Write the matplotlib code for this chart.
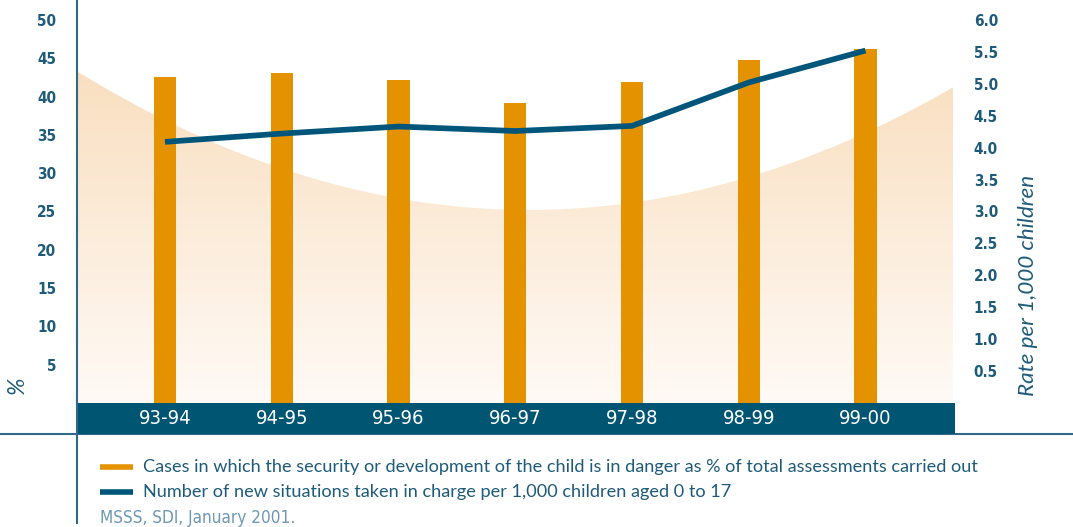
import numpy as np
import matplotlib
matplotlib.use("Agg")
import matplotlib.pyplot as plt
from matplotlib import transforms
from matplotlib.patches import Rectangle, Polygon
from matplotlib.lines import Line2D

# --- data -------------------------------------------------------------
years = ["93-94", "94-95", "95-96", "96-97", "97-98", "98-99", "99-00"]
pct_in_danger = [42.6, 43.1, 42.2, 39.2, 41.9, 44.8, 46.2]
rate_per_1000 = [4.09, 4.22, 4.33, 4.26, 4.34, 5.02, 5.52]

left_ticks = [5, 10, 15, 20, 25, 30, 35, 40, 45, 50]
right_ticks = [0.5, 1.0, 1.5, 2.0, 2.5, 3.0, 3.5, 4.0, 4.5, 5.0, 5.5, 6.0]

legend_labels = [
    "Cases in which the security or development of the child is in danger as % of total assessments carried out",
    "Number of new situations taken in charge per 1,000 children aged 0 to 17",
]
source_text = "MSSS, SDI, January 2001."

# --- style ------------------------------------------------------------
ORANGE = "#E59200"
TEAL = "#00567A"
TEXT = "#1E5B7B"
SOURCE = "#6E98B3"
COND = ["DejaVu Sans", "Roboto"]
HUMAN = ["Lato", "Open Sans", "DejaVu Sans"]

W, H = 1073, 527
fig = plt.figure(figsize=(W / 100, H / 100), dpi=100)

# plot area in pixels
x0, x1 = 77, 953
y_base = 403
ax = fig.add_axes([x0 / W, (H - y_base) / H, (x1 - x0) / W, y_base / H])
x = np.arange(len(years))
ax.set_facecolor("none")
for s in ax.spines.values():
    s.set_visible(False)

# background swoosh with vertical gradient
curve_pts_x = [-0.754, 3.13, 6.75]
curve_pts_y = [43.3, 25.2, 41.2]
coef = np.polyfit(curve_pts_x, curve_pts_y, 2)
xs = np.linspace(-0.754, 6.75, 300)
ys = np.polyval(coef, xs)
poly = Polygon(np.column_stack([np.r_[xs, xs[::-1]], np.r_[ys, np.zeros_like(xs)]]),
               closed=True, facecolor="none", edgecolor="none", transform=ax.transData)
ax.add_patch(poly)
top = np.array([249, 222, 190]) / 255
bot = np.array([255, 250, 246]) / 255
t = np.linspace(1, 0, 256)[:, None]
grad = (t[..., None] * top + (1 - t[..., None]) * bot)
grad = np.repeat(grad, 2, axis=1)
im = ax.imshow(grad, extent=[-0.754, 6.75, 0, 45], aspect="auto", zorder=0,
               interpolation="bilinear")
im.set_clip_path(poly)
ax.set_xlim(-0.754, 6.75)
ax.set_ylim(0, 52.6)

# bars
ax.bar(x, pct_in_danger, width=0.19, color=ORANGE, zorder=2)

# rate line on twin scale
ax2 = ax.twinx()
ax2.set_ylim(0, 52.6 * 6 / 50)
for s in ax2.spines.values():
    s.set_visible(False)
ax2.plot(x, rate_per_1000, color=TEAL, lw=4.1, solid_capstyle="butt",
         solid_joinstyle="miter", zorder=3)

# ticks
ax.set_xticks([])
ax.set_yticks(left_ticks)
ax.set_yticklabels([str(v) for v in left_ticks])
ax.tick_params(axis="y", length=0, pad=15, labelsize=11, labelcolor=TEXT)
for lab in ax.get_yticklabels():
    lab.set_fontfamily(COND)
    lab.set_fontweight("bold")
    lab.set_fontstretch("condensed")
ax2.set_yticks(right_ticks)
ax2.set_yticklabels([f"{v:.1f}" for v in right_ticks])
ax2.tick_params(axis="y", length=0, pad=15, labelsize=11, labelcolor=TEXT)
for lab in ax2.get_yticklabels():
    lab.set_fontfamily(COND)
    lab.set_fontweight("bold")
    lab.set_fontstretch("condensed")

# category band
fig.add_artist(Line2D([0, 1], [(H - 434) / H] * 2, color="#2F6A8A", lw=1.5,
                      transform=fig.transFigure, zorder=1))
fig.add_artist(Rectangle((76 / W, (H - 434) / H), (955 - 76) / W, 31 / H,
                         transform=fig.transFigure, facecolor="#005573",
                         edgecolor="none", zorder=2))
fig.add_artist(Line2D([x0 / W] * 2, [(H - 523) / H, 1], color="#2F6A8A", lw=1.5,
                      transform=fig.transFigure, zorder=3))
bt = transforms.blended_transform_factory(ax.transData, fig.transFigure)
for xi, lab in zip(x, years):
    fig.text(xi, (H - 419) / H, lab, transform=bt, ha="center", va="center",
             color="white", fontsize=14.5, family=COND, stretch="condensed",
             zorder=4)

# axis titles
fig.text(17 / W, (H - 385) / H, "%", rotation=90, ha="center", va="center",
         color=TEXT, fontsize=17, style="italic", family=HUMAN)
fig.text(1028 / W, (H - 285) / H, "Rate per 1,000 children", rotation=90,
         ha="center", va="center", color=TEXT, fontsize=16.2, style="italic",
         family=HUMAN)

# legend
for yy, col, lab in zip([467, 492], [ORANGE, TEAL], legend_labels):
    fig.add_artist(Line2D([100 / W, 133 / W], [(H - yy) / H] * 2, color=col,
                          lw=4, solid_capstyle="butt", transform=fig.transFigure))
    fig.text(143 / W, (H - yy) / H, lab, ha="left", va="center", color=TEXT,
             fontsize=13.1, family=HUMAN)

fig.text(100 / W, (H - 518) / H, source_text, ha="left", va="center",
         color=SOURCE, fontsize=12.3, family=COND, stretch="condensed")

fig.savefig("out.png", dpi=100)
